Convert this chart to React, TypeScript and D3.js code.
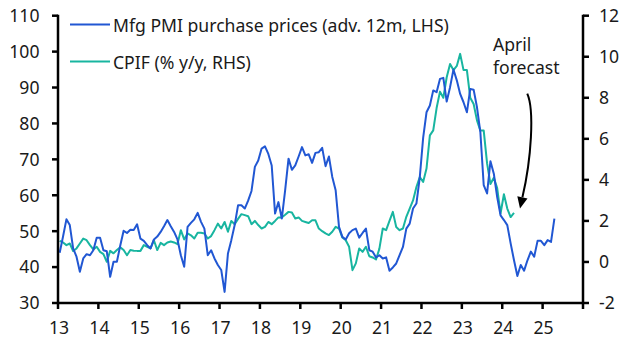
import React from "react";
import * as d3 from "d3";

// Monthly data, Jan 2013 onwards
const pmiPrices: number[] = [
  44, 48.5, 53.3, 51.7, 45.2, 42.9, 38.7, 42.4, 43.6, 43.3,
  44.7, 48.2, 48.2, 44.7, 44.4, 37.3, 41.5, 41.5, 46, 50.1,
  49.5, 50.4, 50.3, 51.9, 47.9, 47.3, 46.1, 45.2, 47.7, 48.5,
  49.8, 51.4, 53.1, 51.4, 49.8, 47.7, 43.3, 40.1, 51.2, 52.3,
  53.3, 55.1, 52.6, 50.7, 43.3, 44.7, 42.4, 40.6, 39.2, 33.1,
  43.8, 47.5, 51.7, 57.2, 57.2, 56.3, 58.5, 61.2, 67.9, 69.7,
  73, 73.6, 71.5, 68.3, 54.9, 58.1, 53.5, 61.4, 70.2, 67.1,
  68.3, 70.8, 73.4, 71.1, 71.4, 69.0, 71.8, 72.0, 73.2, 68.1,
  70.8, 65.1, 61.4, 51.2, 48.4, 47.7, 49.4, 50.3, 50.7, 48.2,
  49.5, 50.7, 44.7, 44.3, 42.7, 43.3, 42.4, 42.7, 39.0, 39.9,
  41.0, 43.3, 45.6, 50.7, 52.1, 56.3, 57.7, 65, 76, 83.1,
  85, 89.2, 88.7, 92.4, 92.7, 86.1, 90.1, 95.0, 92.0, 88.2,
  85.9, 83.1, 89.6, 89.4, 84.5, 77.6, 62.8, 60.5, 69.5, 66.0,
  59.5, 54.4, 53.1, 51.7, 46.6, 41.9, 37.5, 40.6, 39.0, 41.9,
  44.3, 42.9, 47.3, 47.3, 46.1, 47.5, 47.0, 53.5,
];

const cpif: number[] = [
  1.03, 0.95, 0.82, 0.9, 0.53, 0.66, 0.9, 1.14, 1.06, 0.82,
  0.61, 0.74, 0.49, 0.38, 0.01, 0.54, 0.42, 0.58, 0.71, 0.58,
  0.33, 0.58, 0.55, 0.54, 0.54, 0.82, 0.74, 0.66, 1.06, 0.58,
  0.93, 0.82, 0.95, 1.0, 0.95, 0.87, 1.55, 1.1, 1.39, 1.3,
  1.14, 1.42, 1.42, 1.39, 1.14, 1.26, 1.55, 1.87, 1.63, 1.95,
  1.47, 2.0, 1.84, 2.1, 2.33, 2.28, 2.23, 1.84, 2.0, 1.8,
  1.63, 1.71, 1.95, 1.84, 2.0, 2.17, 2.17, 2.3, 2.44, 2.41,
  2.12, 2.17, 2.0, 1.95, 1.9, 2.03, 2.03, 1.63, 1.5, 1.39,
  1.31, 1.47, 1.71, 1.63, 1.19, 1.06, 0.74, -0.4, -0.07, 0.66,
  0.49, 0.74, 0.28, 0.22, 0.12, 0.65, 1.63, 1.55, 2.0, 2.44,
  1.7, 1.55, 1.63, 2.2, 2.6, 3.0, 3.65, 4.14, 3.9, 4.55,
  6.17, 6.41, 7.5, 8.3, 8.0, 9.0, 9.65, 9.35, 9.55, 10.14,
  9.35, 9.35, 8.0, 7.7, 6.9, 6.4, 6.4, 4.8, 3.8, 4.1,
  3.6, 2.36, 3.3, 2.6, 2.19, 2.39,
];

const startYear = 2013;
const yearTicks: number[] = d3.range(2013, 2027);
const yearLabels: string[] = ["13", "14", "15", "16", "17", "18", "19", "20", "21", "22", "23", "24", "25"];
const leftTicks: number[] = [30, 40, 50, 60, 70, 80, 90, 100, 110];
const rightTicks: number[] = [-2, 0, 2, 4, 6, 8, 10, 12];

const legendLabels: string[] = ["Mfg PMI purchase prices (adv. 12m, LHS)", "CPIF (% y/y, RHS)"];
const annotationLines: string[] = ["April", "forecast"];

const BLUE = "#2157d3";
const TEAL = "#18b5a0";
const FONT = "'Noto Sans', 'DejaVu Sans', sans-serif";
const TXT = "#1a1a1a";
const FS = 17.6;

export default function App() {
  const W = 634, H = 359;
  const x0 = 58, x1 = 583, yTop = 15.7, yBot = 303;

  const x = d3.scaleLinear().domain([2013, 2026]).range([x0, x1]);
  const yL = d3.scaleLinear().domain([30, 110]).range([yBot, yTop]);
  const yR = d3.scaleLinear().domain([-2, 12]).range([yBot, yTop]);

  const t = (i: number) => startYear + (i + 0.5) / 12;

  const pmiLine = d3.line<number>().x((_, i) => x(t(i))).y((d) => yL(d));
  const cpifLine = d3.line<number>().x((_, i) => x(t(i))).y((d) => yR(d));

  // annotation arrow anchored in data space
  const p0 = [x(2024.62), yR(8.2)];
  const c1 = [x(2024.8), yR(7.4)];
  const c2 = [x(2024.72), yR(5.0)];
  const pe = [x(2024.5), yR(3.15)];
  const tip = [x(2024.44), yR(2.6)];
  const dx = tip[0] - pe[0], dy = tip[1] - pe[1];
  const len = Math.hypot(dx, dy);
  const ux = dx / len, uy = dy / len;
  const hw = 5.2;
  const b1 = [pe[0] + uy * hw, pe[1] - ux * hw];
  const b2 = [pe[0] - uy * hw, pe[1] + ux * hw];
  const arrowPath = `M${p0[0]},${p0[1]} C${c1[0]},${c1[1]} ${c2[0]},${c2[1]} ${pe[0]},${pe[1]}`;

  return (
    <svg width={W} height={H} style={{ position: "absolute", left: 0, top: 0, background: "#fff" }}
      fontFamily={FONT}>
      <rect x={0} y={0} width={W} height={H} fill="#fff" />

      {/* series */}
      <path d={cpifLine(cpif) || ""} fill="none" stroke={TEAL} strokeWidth={2} strokeLinejoin="round" />
      <path d={pmiLine(pmiPrices) || ""} fill="none" stroke={BLUE} strokeWidth={2} strokeLinejoin="round" />

      {/* left axis */}
      <line x1={x0} x2={x0} y1={yTop - 1} y2={yBot + 1} stroke="#000" strokeWidth={2.5} />
      {leftTicks.map((v) => (
        <g key={"l" + v}>
          <line x1={x0 - 6} x2={x0} y1={yL(v)} y2={yL(v)} stroke="#000" strokeWidth={2.5} />
          <text x={39.5} y={yL(v)} dy="0.36em" textAnchor="end" fontSize={FS} fill={TXT}>{v}</text>
        </g>
      ))}

      {/* right axis */}
      <line x1={x1} x2={x1} y1={yTop - 1} y2={yBot + 1} stroke="#000" strokeWidth={2.5} />
      {rightTicks.map((v) => (
        <g key={"r" + v}>
          <line x1={x1} x2={x1 + 6} y1={yR(v)} y2={yR(v)} stroke="#000" strokeWidth={2.5} />
          <text x={599} y={yR(v)} dy="0.36em" textAnchor="start" fontSize={FS} fill={TXT}>
            {v < 0 ? "-" + Math.abs(v) : v}
          </text>
        </g>
      ))}

      {/* bottom axis */}
      <line x1={x0 - 1} x2={x1 + 1} y1={yBot} y2={yBot} stroke="#000" strokeWidth={2.5} />
      {yearTicks.map((yr) => (
        <line key={"t" + yr} x1={x(yr)} x2={x(yr)} y1={yBot} y2={yBot + 6} stroke="#000" strokeWidth={2.5} />
      ))}
      {yearLabels.map((lab, i) => (
        <text key={"x" + lab} x={x(yearTicks[i]) + 1} y={334} textAnchor="middle" fontSize={FS} fill={TXT}>{lab}</text>
      ))}

      {/* legend */}
      <line x1={70} x2={110} y1={24.5} y2={24.5} stroke={BLUE} strokeWidth={2} />
      <text x={113} y={31.5} fontSize={FS} fill={TXT}>{legendLabels[0]}</text>
      <line x1={70} x2={110} y1={61.5} y2={61.5} stroke={TEAL} strokeWidth={2} />
      <text x={113} y={68.8} fontSize={FS} fill={TXT}>{legendLabels[1]}</text>

      {/* annotation */}
      <text x={493} y={50.7} fontSize={FS} fill={TXT}>{annotationLines[0]}</text>
      <text x={493} y={74} fontSize={FS} fill={TXT}>{annotationLines[1]}</text>
      <path d={arrowPath} fill="none" stroke="#000" strokeWidth={2} />
      <path d={`M${tip[0]},${tip[1]} L${b1[0]},${b1[1]} L${b2[0]},${b2[1]} Z`} fill="#000" />
    </svg>
  );
}
